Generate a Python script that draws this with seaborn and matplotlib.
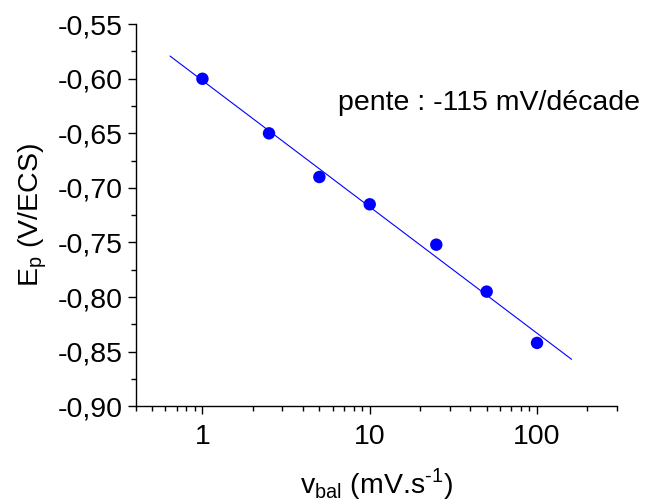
import numpy as np
import pandas as pd
import matplotlib
matplotlib.use("Agg")
import matplotlib.pyplot as plt
import matplotlib.ticker as mticker
import seaborn as sns

# données : vitesse de balayage (mV/s) et potentiel de pic (V/ECS)
v_bal = [1, 2.5, 5, 10, 25, 50, 100]
E_p = [-0.600, -0.650, -0.690, -0.715, -0.752, -0.795, -0.842]
line_range = [0.64, 161]

df = pd.DataFrame({"v": v_bal, "E": E_p})

# droite de régression E = a*log10(v) + b
a, b = np.polyfit(np.log10(df["v"]), df["E"], 1)
x_fit = np.array(line_range)
y_fit = a * np.log10(x_fit) + b

sns.set_style("ticks")
plt.rcParams['font.family'] = ['Liberation Sans', 'DejaVu Sans']
plt.rcParams['mathtext.fontset'] = 'custom'
plt.rcParams['mathtext.rm'] = 'Liberation Sans'

fig = plt.figure(figsize=(6.5, 5.04), dpi=100)
ax = fig.add_axes([0.209, 0.194, 0.740, 0.758])

ax.plot(x_fit, y_fit, color='blue', linewidth=0.8)
sns.scatterplot(data=df, x="v", y="E", ax=ax, color='blue', s=80,
                edgecolor='none', zorder=3)

ax.set_xscale('log')
ax.set_xlim(0.4, 300)
ax.set_ylim(-0.90, -0.55)

ax.yaxis.set_major_locator(mticker.MultipleLocator(0.05))
ax.yaxis.set_minor_locator(mticker.MultipleLocator(0.025))
ax.yaxis.set_major_formatter(mticker.FuncFormatter(lambda v, p: f"{v:.2f}".replace('.', ',')))
ax.xaxis.set_major_locator(mticker.FixedLocator([1, 10, 100]))
ax.xaxis.set_major_formatter(mticker.FuncFormatter(lambda v, p: f"{v:g}"))
ax.xaxis.set_minor_locator(mticker.LogLocator(base=10, subs=np.arange(2, 10)))
ax.xaxis.set_minor_formatter(mticker.NullFormatter())

ax.tick_params(axis='both', which='major', labelsize=20.5, length=5.5, width=1,
               color='black', labelcolor='black')
ax.tick_params(axis='y', which='major', pad=4)
ax.tick_params(axis='x', which='major', pad=7)
ax.tick_params(axis='both', which='minor', length=3.5, width=1, color='black')
for s in ['left', 'bottom']:
    ax.spines[s].set_color('black')
    ax.spines[s].set_linewidth(1)
sns.despine(ax=ax)

ax.set_xlabel(r"v$_{\mathregular{bal}}$ (mV.s$^{\mathregular{\text{-}1}}$)", fontsize=20.5,
              labelpad=12, color='black')
ax.set_ylabel(r"E$_{\mathregular{p}}$ (V/ECS)", fontsize=20.5, labelpad=6, color='black')

ax.text(0.42, 0.775, "pente : -115 mV/décade", transform=ax.transAxes,
        fontsize=20.5, va='baseline', ha='left', color='black')

fig.savefig("out.png", dpi=100)
